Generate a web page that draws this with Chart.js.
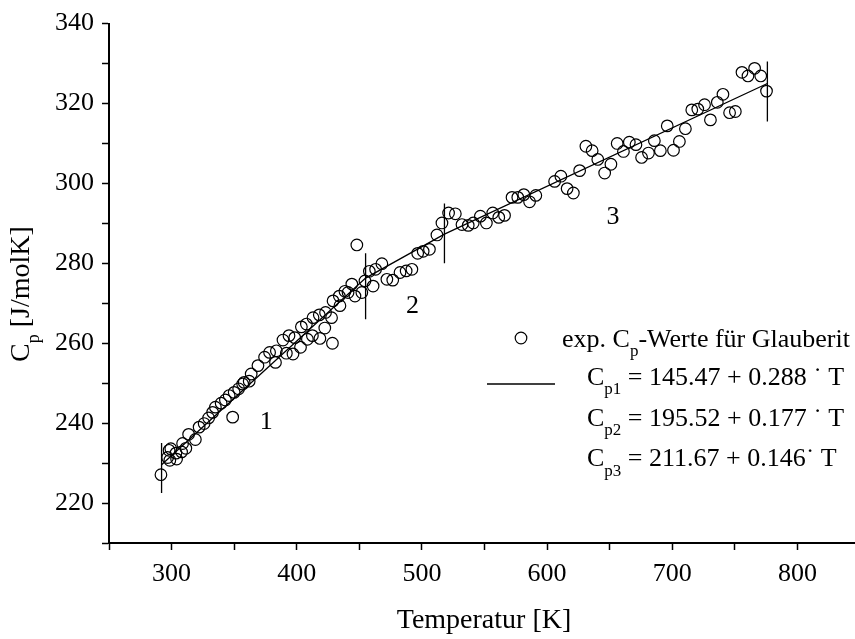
<!DOCTYPE html>
<html>
<head>
<meta charset="utf-8">
<script src="https://cdn.jsdelivr.net/npm/chart.js@4.4.0/dist/chart.umd.min.js"></script>
<style>
    html, body { margin: 0; padding: 0; background: #fff; overflow: hidden; }
    #wrap { width: 855px; height: 639px; overflow: hidden; }
</style>
</head>
<body>
<div id="wrap"><canvas id="canvas" width="862" height="639"></canvas></div>
<script>
"use strict";

// measured points (T in K, Cp in J/molK)
const tempExp = [
    291.5, 296.8, 298.0, 298.6, 299.4, 303.5, 304.0, 308.0, 308.8, 311.4,
    313.6, 319.0, 322.0, 326.0, 329.6, 332.8, 335.0, 339.6, 343.0, 346.0,
    348.8, 350.0, 353.6, 356.8, 358.0, 362.0, 363.6, 369.0, 374.3, 378.3,
    383.0, 383.7, 389.0, 391.7, 393.8, 397.0, 398.4, 403.0, 403.7, 407.7,
    408.5, 412.5, 413.0, 418.0, 418.5, 422.4, 423.0, 427.8, 428.5, 429.0,
    434.0, 434.5, 438.5, 441.0, 444.0, 446.5, 448.0, 452.0, 454.5,
    458.0, 461.0, 463.0, 468.0, 472.0, 476.7, 482.5, 487.4, 492.0, 496.6,
    501.0, 506.0, 512.0, 516.0, 521.3, 526.7,
    532.0, 537.0, 541.0, 546.7, 551.5, 556.6, 561.4, 566.0, 572.0, 576.6,
    581.4, 586.0, 591.0, 606.0, 611.0, 616.0, 621.0, 626.0, 631.0, 636.0,
    640.5, 646.0, 651.0, 656.0, 661.0, 665.7, 671.0, 675.5, 681.0, 685.7,
    690.5, 696.0, 701.0, 705.7, 710.5, 715.6, 720.4, 725.8, 730.5, 736.0,
    740.5, 745.8, 750.4, 755.7, 760.5, 765.8, 770.7, 775.3
];
const cpExp = [
    227.1, 231.4, 233.2, 230.7, 233.6, 232.5, 231.0, 232.8, 234.9, 233.7,
    237.2, 235.9, 239.0, 239.9, 241.3, 242.7, 244.0, 245.0, 245.8, 246.9,
    241.5, 247.7, 248.6, 249.8, 250.2, 250.5, 252.3, 254.4, 256.5, 257.7,
    255.2, 258.1, 260.8, 257.5, 261.9, 257.3, 261.4, 259.0, 264.1, 264.8,
    261.0, 261.9, 266.4, 267.1, 261.2, 263.8, 267.7, 266.4, 260.0, 270.6,
    271.8, 269.4, 273.0, 272.7, 274.8, 271.8, 284.6, 272.7, 275.6,
    278.0, 274.3, 278.5, 279.9, 276.0, 275.8, 277.7, 278.1, 278.5, 282.5,
    283.0, 283.5, 287.1, 290.1, 292.6, 292.4,
    289.7, 289.5, 290.1, 291.8, 290.1, 292.6, 291.5, 292.0, 296.5, 296.5,
    297.2, 295.4, 297.0, 300.5, 301.8, 298.7, 297.6, 303.2, 309.3, 308.2,
    306.0, 302.6, 304.8, 310.0, 308.0, 310.3, 309.7, 306.5, 307.6, 310.7,
    308.2, 314.4, 308.3, 310.5, 313.7, 318.4, 318.6, 319.7, 315.9, 320.3,
    322.3, 317.7, 318.0, 327.8, 326.9, 328.8, 326.9, 323.1
];

// piecewise linear fit, break points
const fitT = [292, 455, 518, 776];
const fitCp = [229.6, 276.3, 287.3, 325.0];

// vertical bars marking the range limits
const markT = [292, 455, 518, 776];
const markLow = [222.5, 266.0, 280.0, 315.5];
const markHigh = [235.0, 282.5, 295.0, 330.5];

// range numbers
const regionNames = ['1', '2', '3'];
const regionT = [375.7, 492.4, 652.7];
const regionCp = [240.2, 269.4, 291.5];

const xTickLabels = [300, 400, 500, 600, 700, 800];
const yTickLabels = [220, 240, 260, 280, 300, 320, 340];

const legendRows = [
    [{ t: 'C' }, { t: 'p1', sub: true }, { t: ' = 145.47 + 0.288 \u02D9 T' }],
    [{ t: 'C' }, { t: 'p2', sub: true }, { t: ' = 195.52 + 0.177 \u02D9 T' }],
    [{ t: 'C' }, { t: 'p3', sub: true }, { t: ' = 211.67 + 0.146\u02D9 T' }]
];

const FONT = '"Liberation Serif", "Times New Roman", serif';

function drawParts(ctx, x, y, parts, size) {
    parts.forEach(function (p) {
        const s = p.sub ? Math.round(size * 0.65) : size;
        ctx.font = s + 'px ' + FONT;
        ctx.fillText(p.t, x, y + (p.sub ? size * 0.36 : 0));
        x += ctx.measureText(p.t).width;
    });
    return x;
}

function partsWidth(ctx, parts, size) {
    let w = 0;
    parts.forEach(function (p) {
        const s = p.sub ? Math.round(size * 0.65) : size;
        ctx.font = s + 'px ' + FONT;
        w += ctx.measureText(p.t).width;
    });
    return w;
}

const extras = {
    id: 'extras',
    afterDraw: function (chart) {
        const ctx = chart.ctx;
        const xs = chart.scales.x;
        const ys = chart.scales.y;
        ctx.save();
        ctx.fillStyle = '#000';
        ctx.strokeStyle = '#000';

        // range numbers
        ctx.font = '26px ' + FONT;
        ctx.textAlign = 'center';
        ctx.textBaseline = 'middle';
        regionNames.forEach(function (n, i) {
            ctx.fillText(n, xs.getPixelForValue(regionT[i]), ys.getPixelForValue(regionCp[i]));
        });

        // legend
        ctx.textAlign = 'left';
        ctx.textBaseline = 'alphabetic';
        ctx.lineWidth = 1.2;
        ctx.beginPath();
        ctx.arc(521, 338, 5.8, 0, Math.PI * 2);
        ctx.stroke();
        drawParts(ctx, 562, 347, [{ t: 'exp. C' }, { t: 'p', sub: true }, { t: '-Werte f\u00FCr Glauberit' }], 26);

        ctx.lineWidth = 1.3;
        ctx.beginPath();
        ctx.moveTo(487, 384);
        ctx.lineTo(555, 384);
        ctx.stroke();
        legendRows.forEach(function (row, i) {
            drawParts(ctx, 587, 385 + i * 40.7, row, 26);
        });

        // axis titles
        ctx.font = '28px ' + FONT;
        ctx.textAlign = 'center';
        ctx.fillText('Temperatur [K]', 484, 628);

        const yTitle = [{ t: 'C' }, { t: 'p', sub: true }, { t: ' [J/molK]' }];
        const w = partsWidth(ctx, yTitle, 28);
        ctx.translate(29, 294);
        ctx.rotate(-Math.PI / 2);
        ctx.textAlign = 'left';
        drawParts(ctx, -w / 2, 0, yTitle, 28);
        ctx.restore();
    }
};

const datasets = [{
    label: 'exp',
    data: tempExp.map(function (t, i) { return { x: t, y: cpExp[i] }; }),
    showLine: false,
    pointStyle: 'circle',
    pointRadius: 5.8,
    pointBorderWidth: 1.2,
    borderColor: '#000',
    backgroundColor: 'rgba(0,0,0,0)'
}, {
    label: 'fit',
    data: fitT.map(function (t, i) { return { x: t, y: fitCp[i] }; }),
    showLine: true,
    pointRadius: 0,
    borderWidth: 1.3,
    borderColor: '#000',
    tension: 0
}];

markT.forEach(function (t, i) {
    datasets.push({
        label: 'mark' + i,
        data: [{ x: t, y: markLow[i] }, { x: t, y: markHigh[i] }],
        showLine: true,
        pointRadius: 0,
        borderWidth: 1.3,
        borderColor: '#000'
    });
});

window.onload = function () {
    const ctx = document.getElementById('canvas').getContext('2d');
    window.myChart = new Chart(ctx, {
        type: 'scatter',
        data: { datasets: datasets },
        plugins: [extras],
        options: {
            responsive: false,
            animation: false,
            events: [],
            layout: { padding: { top: 22, right: 0, left: 0, bottom: 0 } },
            plugins: {
                legend: { display: false },
                tooltip: { enabled: false }
            },
            scales: {
                x: {
                    type: 'linear',
                    min: 250,
                    max: 846,
                    afterFit: function (scale) { scale.height = 96; },
                    border: { display: true, color: '#000', width: 2 },
                    grid: { display: true, drawOnChartArea: false, tickLength: 7, tickWidth: 1.5, tickColor: '#000' },
                    ticks: {
                        stepSize: 50,
                        includeBounds: false,
                        autoSkip: false,
                        maxRotation: 0,
                        padding: 9,
                        color: '#000',
                        font: { family: FONT, size: 26 },
                        callback: function (v) { return xTickLabels.includes(v) ? String(v) : ''; }
                    }
                },
                y: {
                    type: 'linear',
                    min: 210,
                    max: 340,
                    afterFit: function (scale) { scale.width = 109; },
                    border: { display: true, color: '#000', width: 2 },
                    grid: { display: true, drawOnChartArea: false, tickLength: 7, tickWidth: 1.5, tickColor: '#000' },
                    ticks: {
                        stepSize: 10,
                        autoSkip: false,
                        padding: 8,
                        color: '#000',
                        font: { family: FONT, size: 26 },
                        callback: function (v) { return yTickLabels.includes(v) ? String(v) : ''; }
                    }
                }
            }
        }
    });
};
</script>
</body>
</html>
